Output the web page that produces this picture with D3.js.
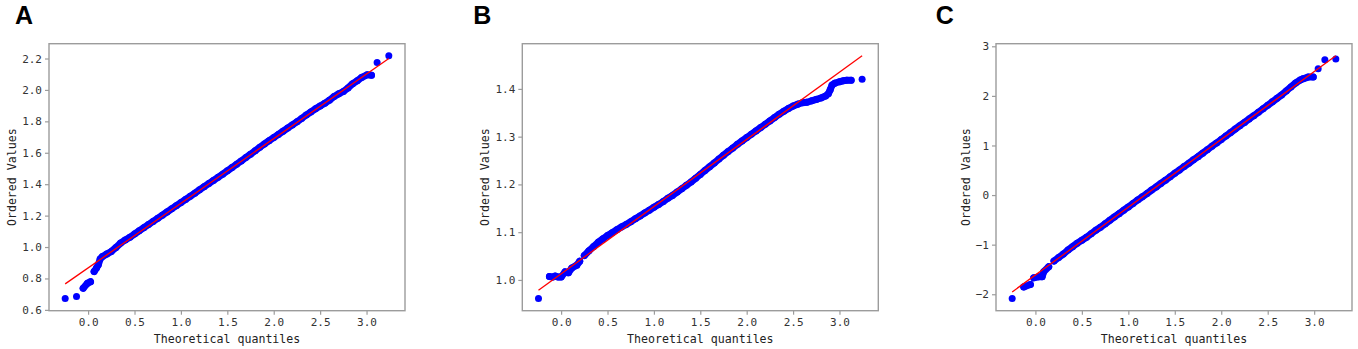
<!DOCTYPE html>
<html><head><meta charset="utf-8">
<script src="https://cdn.jsdelivr.net/npm/d3@7"></script>
<style>body{margin:0;background:#fff}svg{display:block}</style>
</head><body>
<svg id="c" width="1358" height="349"></svg>
<script>
// ---------- data ----------
const panelLetters = ["A", "B", "C"];
const xAxisTitle = "Theoretical quantiles";
const yAxisTitle = "Ordered Values";
const xTicks = [0.0, 0.5, 1.0, 1.5, 2.0, 2.5, 3.0];

const yTicksA = [0.6, 0.8, 1.0, 1.2, 1.4, 1.6, 1.8, 2.0, 2.2];
const qA_x = [-0.247,-0.125,-0.053,-0.006,0.026,0.065,0.09,0.11,0.13,0.155,
  0.20,0.25,0.30,0.35,0.40,0.45,0.50,0.55,0.60,0.65,0.70,0.75,0.80,0.85,0.90,0.95,
  1.00,1.05,1.10,1.15,1.20,1.25,1.30,1.35,1.40,1.45,1.50,1.55,1.60,1.65,1.70,1.75,1.80,1.85,1.90,1.95,
  2.00,2.05,2.10,2.15,2.20,2.25,2.30,2.35,2.40,2.45,2.50,2.55,2.60,2.65,2.70,2.75,2.80,2.85,2.90,
  2.946,3.006,3.053,3.114,3.24];
const qA_y = [0.672,0.685,0.738,0.770,0.779,0.844,0.866,0.887,0.924,0.940,
  0.955,0.972,0.997,1.025,1.045,1.062,1.083,1.103,1.123,1.143,1.163,1.183,1.203,1.223,1.243,1.263,
  1.283,1.303,1.323,1.343,1.364,1.384,1.404,1.424,1.444,1.464,1.485,1.506,1.527,1.548,1.570,1.591,1.613,1.635,1.656,1.677,
  1.697,1.717,1.737,1.757,1.777,1.797,1.818,1.840,1.860,1.880,1.898,1.915,1.935,1.958,1.975,1.990,2.012,2.040,2.058,
  2.079,2.096,2.094,2.175,2.217];
const fitA = [0.867, 0.4115];   // intercept, slope

const yTicksB = [1.0, 1.1, 1.2, 1.3, 1.4];
const qB_x = [-0.244,-0.126,-0.09,-0.065,-0.03,0.0,0.043,0.079,0.115,0.169,
  0.20,0.25,0.30,0.35,0.40,0.45,0.50,0.55,0.60,0.65,0.70,0.75,0.80,0.85,0.90,0.95,
  1.00,1.05,1.10,1.15,1.20,1.25,1.30,1.35,1.40,1.45,1.50,1.55,1.60,1.65,1.70,1.75,1.80,1.85,1.90,1.95,
  2.00,2.05,2.10,2.15,2.20,2.25,2.30,2.35,2.40,2.45,2.50,2.55,2.60,
  2.65,2.70,2.75,2.80,2.85,2.88,2.90,2.92,2.95,3.00,3.04,3.08,3.126,3.244];
const qB_y = [0.961,1.007,1.006,1.008,1.006,1.006,1.017,1.015,1.025,1.031,
  1.039,1.051,1.061,1.070,1.079,1.086,1.093,1.099,1.105,1.111,1.116,1.122,1.128,1.134,1.140,1.146,
  1.152,1.158,1.164,1.171,1.177,1.184,1.191,1.198,1.205,1.213,1.221,1.229,1.237,1.245,1.253,1.261,1.269,1.276,1.284,1.291,
  1.298,1.305,1.312,1.319,1.326,1.333,1.340,1.347,1.353,1.359,1.364,1.368,1.371,
  1.372,1.375,1.378,1.381,1.385,1.390,1.398,1.408,1.412,1.415,1.417,1.418,1.418,1.420];
const fitB = [1.0128, 0.1407];

const yTicksC = [-2, -1, 0, 1, 2, 3];
const qC_x = [-0.25,-0.126,-0.054,-0.018,0.035,0.072,0.089,0.143,
  0.20,0.25,0.30,0.35,0.40,0.45,0.50,0.55,0.60,0.65,0.70,0.75,0.80,0.85,0.90,0.95,
  1.00,1.05,1.10,1.15,1.20,1.25,1.30,1.35,1.40,1.45,1.50,1.55,1.60,1.65,1.70,1.75,1.80,1.85,1.90,1.95,
  2.00,2.05,2.10,2.15,2.20,2.25,2.30,2.35,2.40,2.45,2.50,2.55,2.60,2.65,2.70,2.75,2.80,2.85,
  2.88,2.935,2.99,3.043,3.115,3.233];
const qC_y = [-2.087,-1.852,-1.803,-1.669,-1.649,-1.649,-1.547,-1.446,
  -1.33,-1.26,-1.19,-1.11,-1.04,-0.97,-0.91,-0.85,-0.78,-0.71,-0.65,-0.58,-0.51,-0.44,-0.375,-0.305,
  -0.24,-0.17,-0.10,-0.035,0.03,0.10,0.165,0.235,0.30,0.37,0.44,0.505,0.575,0.64,0.71,0.775,0.845,0.915,0.985,1.05,
  1.12,1.19,1.26,1.33,1.40,1.465,1.535,1.60,1.67,1.74,1.81,1.88,1.95,2.02,2.10,2.18,2.26,2.32,
  2.344,2.379,2.379,2.547,2.73,2.744];
const fitC = [-1.612, 1.367];

// ---------- layout ----------
const panels = [
  {xs: qA_x, ys: qA_y, fit: fitA, yTicks: yTicksA, fmt: d3.format(".1f"), left: 49,    letterX: 15},
  {xs: qB_x, ys: qB_y, fit: fitB, yTicks: yTicksB, fmt: d3.format(".1f"), left: 522.3, letterX: 473.3},
  {xs: qC_x, ys: qC_y, fit: fitC, yTicks: yTicksC, fmt: d3.format("d"),   left: 996,   letterX: 935.7}
];
const plotTop = 43.7, pw = 356, ph = 267;
const frameColor = "#9c9c9c";
const tickFont = "'DejaVu Sans Mono', 'Liberation Mono', monospace";
const dotR = 3.5, bandGap = 7.2;

const svg = d3.select("#c");

panels.forEach((p, i) => {
  const g = svg.append("g");
  const xmin = d3.min(p.xs), xmax = d3.max(p.xs);
  const lineY = x => p.fit[0] + p.fit[1] * x;
  const allY = p.ys.concat([lineY(xmin), lineY(xmax)]);
  const ymin = d3.min(allY), ymax = d3.max(allY);
  const xpad = (xmax - xmin) * 0.05, ypad = (ymax - ymin) * 0.05;
  const x = d3.scaleLinear().domain([xmin - xpad, xmax + xpad]).range([p.left, p.left + pw]);
  const y = d3.scaleLinear().domain([ymin - ypad, ymax + ypad]).range([plotTop + ph, plotTop]);

  const pts = p.xs.map((v, k) => [v, p.ys[k]]);

  // dense runs of overlapping markers: fill the gaps between neighbouring dots
  const runs = [];
  let cur = [pts[0]];
  for (let k = 1; k < pts.length; k++) {
    const a = pts[k - 1], b = pts[k];
    const dist = Math.hypot(x(b[0]) - x(a[0]), y(b[1]) - y(a[1]));
    if (dist < bandGap) cur.push(b); else { runs.push(cur); cur = [b]; }
  }
  runs.push(cur);
  const band = d3.line().x(d => x(d[0])).y(d => y(d[1]));
  g.append("g").selectAll("path").data(runs.filter(r => r.length > 1)).join("path")
    .attr("d", band).attr("fill", "none").attr("stroke", "#0000ff")
    .attr("stroke-width", dotR * 2).attr("stroke-linecap", "round").attr("stroke-linejoin", "round");

  // points
  g.append("g").selectAll("circle").data(pts).join("circle")
    .attr("cx", d => x(d[0])).attr("cy", d => y(d[1])).attr("r", dotR)
    .attr("fill", "#0000ff");

  // fit line
  g.append("path")
    .attr("d", d3.line().x(d => x(d)).y(d => y(lineY(d)))([xmin, xmax]))
    .attr("stroke", "#ff0000").attr("stroke-width", 1.3).attr("fill", "none");

  // frame
  g.append("rect").attr("x", p.left).attr("y", plotTop).attr("width", pw).attr("height", ph)
    .attr("fill", "none").attr("stroke", frameColor).attr("stroke-width", 1.4);

  // axes
  const ax = g.append("g").attr("transform", `translate(0,${plotTop + ph})`)
    .call(d3.axisBottom(x).tickValues(xTicks).tickFormat(d3.format(".1f")).tickSize(4).tickPadding(4));
  const ay = g.append("g").attr("transform", `translate(${p.left},0)`)
    .call(d3.axisLeft(y).tickValues(p.yTicks).tickFormat(p.fmt).tickSize(4).tickPadding(3));
  [ax, ay].forEach(a => {
    a.select(".domain").remove();
    a.selectAll(".tick line").attr("stroke", frameColor).attr("stroke-width", 1.2);
    a.selectAll(".tick text").attr("fill", "#333").style("font-family", tickFont).style("font-size", "11px");
  });

  // axis titles
  g.append("text").attr("x", p.left + pw / 2).attr("y", 343)
    .attr("text-anchor", "middle").attr("fill", "#222")
    .style("font-family", tickFont).style("font-size", "11.6px").text(xAxisTitle);
  let minLeft = Infinity;
  ay.selectAll(".tick text").each(function () { minLeft = Math.min(minLeft, this.getBBox().x + p.left); });
  const lx = minLeft - 10, ly = plotTop + ph / 2;
  g.append("text").attr("transform", `translate(${lx},${ly}) rotate(-90)`)
    .attr("text-anchor", "middle").attr("dominant-baseline", "central").attr("fill", "#222")
    .style("font-family", tickFont).style("font-size", "11.6px").text(yAxisTitle);

  // panel letter
  g.append("text").attr("x", p.letterX).attr("y", 24)
    .attr("fill", "#000").style("font-family", "'Liberation Sans', Arial, sans-serif")
    .style("font-weight", "bold").style("font-size", "25px").text(panelLetters[i]);
});
</script>
</body></html>
